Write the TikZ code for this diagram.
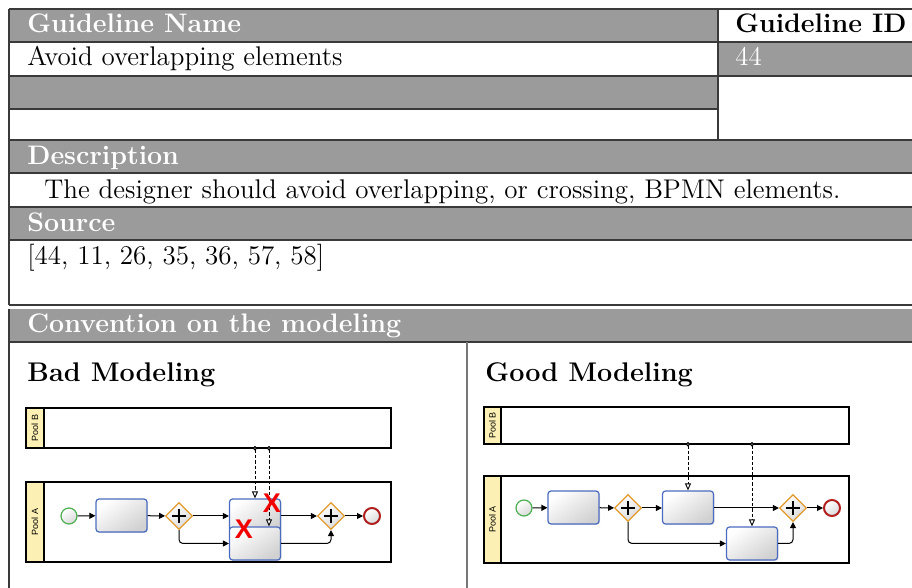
\documentclass[tikz,border=0pt]{standalone}
\usepackage{fontspec}
\newfontfamily\arialf{Liberation Sans}
\usetikzlibrary{arrows.meta,shapes.geometric,shadows}
\definecolor{hdr}{HTML}{9B9B9B}
\definecolor{tline}{HTML}{3A3A3A}
\definecolor{divline}{HTML}{777777}
\definecolor{taskblue}{HTML}{4A6CC0}
\definecolor{gwor}{HTML}{E39A2A}
\definecolor{poolyel}{HTML}{FDF0B5}
\definecolor{startg}{HTML}{4CAF50}
\definecolor{endr}{HTML}{B02020}
\definecolor{xred}{HTML}{F20000}
\begin{document}
\begin{tikzpicture}[x=0.5pt,y=-0.5pt,
  txt/.style={anchor=base west, inner sep=0pt, font=\fontsize{13.5}{15}\selectfont},
  hdtxt/.style={txt, text=white, font=\fontsize{13.4}{15}\selectfont\bfseries},
  tl/.style={draw=tline, line width=0.6pt},
  task/.style={rectangle, draw=taskblue, line width=0.6pt, rounded corners=1.5pt,
    minimum width=25.5pt, minimum height=16.5pt, inner sep=0pt,
    top color=white, bottom color=black!18, shading angle=35,
    drop shadow={opacity=0.25, shadow xshift=0.5pt, shadow yshift=-0.5pt}},
  gw/.style={diamond, draw=gwor, line width=0.6pt, minimum width=13.5pt, minimum height=13.5pt,
    inner sep=0pt, top color=white, bottom color=black!15, shading angle=35},
  startev/.style={circle, draw=startg, line width=0.6pt, minimum size=8pt, inner sep=0pt,
    top color=white, bottom color=black!15, shading angle=35},
  endev/.style={circle, draw=endr, line width=1pt, minimum size=8pt, inner sep=0pt,
    top color=white, bottom color=black!15, shading angle=35},
  poolbox/.style={rectangle, draw=black, line width=0.8pt, fill=white, inner sep=0pt},
  poollab/.style={rectangle, draw=black, line width=0.8pt, fill=poolyel, inner sep=0pt},
  pooltxt/.style={rotate=90, font=\arialf\fontsize{4.5}{5}\selectfont, inner sep=0pt},
  seq/.style={line width=0.5pt, rounded corners=2pt, -{Triangle[length=3pt,width=3pt]}},
  msg/.style={line width=0.45pt, dash pattern=on 1.6pt off 1pt,
    {Circle[open,length=2.2pt,width=2.2pt,fill=black!55]}-{Triangle[open,length=3.5pt,width=3pt,fill=white]}},
  xmark/.style={text=xred, font=\arialf\bfseries\fontsize{13.5}{14}\selectfont, inner sep=0pt},
  ttl/.style={txt, font=\fontsize{13.5}{15}\selectfont\bfseries}
]
\clip (0,0) rectangle (912,588);
% ---------- table ----------
\fill[hdr] (9,9) rectangle (718,42);
\fill[hdr] (718,42) rectangle (930,76);
\fill[hdr] (9,76) rectangle (718,109);
\fill[hdr] (9,140) rectangle (930,173);
\fill[hdr] (9,207) rectangle (930,240);
\fill[hdr] (9,309) rectangle (930,342);
\draw[tl] (9,9) -- (930,9);
\draw[tl] (9,42) -- (930,42);
\draw[tl] (9,76) -- (930,76);
\draw[tl] (9,109) -- (718,109);
\draw[tl] (9,140) -- (930,140);
\draw[tl] (9,173) -- (930,173);
\draw[tl] (9,207) -- (930,207);
\draw[tl] (9,240) -- (930,240);
\draw[tl, line width=0.9pt] (9,305) -- (930,305);
\draw[tl, line width=0.9pt] (9,342) -- (930,342);
\draw[tl] (9,9) -- (9,305);
\draw[tl] (9,309) -- (9,600);
\draw[tl] (718,9) -- (718,140);
\draw[draw=divline, line width=0.7pt] (467,342) -- (467,600);

\node[hdtxt] (gname) at (27,33) {Guideline Name};
\node[txt, font=\fontsize{13.4}{15}\selectfont\bfseries] (gid) at (735,33) {Guideline ID};
\node[txt] (gval) at (27,66) {Avoid overlapping elements};
\node[txt, text=white] (idval) at (735,66) {44};
\node[hdtxt] (desch) at (27,165) {Description};
\node[txt] (desc) at (44,199) {The designer should avoid overlapping, or crossing, BPMN elements.};
\node[hdtxt] (srch) at (27,232) {Source};
\node[txt] (src) at (27,265) {[44, 11, 26, 35, 36, 57, 58]};
\node[hdtxt] (convh) at (27,333) {Convention on the modeling};
\node[ttl] (bad) at (27,382) {Bad Modeling};
\node[ttl] (good) at (485,382) {Good Modeling};

% ---------- Bad modeling ----------
\node[poolbox, minimum width=182.5pt, minimum height=20pt] (bPB) at (208.5,428) {};
\node[poollab, minimum width=9pt, minimum height=20pt] (bPBl) at (35,428) {};
\node[pooltxt] at (bPBl) {Pool B};
\node[poolbox, minimum width=182.5pt, minimum height=40pt] (bPA) at (208.5,522) {};
\node[poollab, minimum width=9pt, minimum height=40pt] (bPAl) at (35,522) {};
\node[pooltxt] at (bPAl) {Pool A};

\node[startev] (bs) at (69,516) {};
\node[task] (bt1) at (121.5,515.5) {};
\node[gw] (bg1) at (179,516) {};
\node[task] (btU) at (255,515.5) {};
\node[task] (btL) at (255,543.5) {};
\node[gw] (bg2) at (331,516) {};
\node[endev] (be) at (372,516) {};
\foreach \g in {bg1,bg2}{
  \draw[line width=0.9pt] ([xshift=-3.6pt]\g.center) -- ([xshift=3.6pt]\g.center);
  \draw[line width=0.9pt] ([yshift=-3.6pt]\g.center) -- ([yshift=3.6pt]\g.center);
}
\draw[seq] (bs) -- (bt1);
\draw[seq] (bt1) -- (bg1);
\draw[seq] (bg1) -- (btU.west |- bg1);
\draw[seq] (bg1.south) |- (btL.west);
\draw[seq] (btU.east |- bg2) -- (bg2);
\draw[seq] (btL.east) -| (bg2.south);
\draw[seq] (bg2) -- (be);
\coordinate (bm1) at (255,446);
\coordinate (bm2) at (269,446);
\draw[msg] (bm1) -- (btU.north);
\draw[msg] (bm2) -- (bm2 |- btL.north);
\node[xmark] (x1) at (272,503) {X};
\node[xmark] (x2) at (244,529) {X};

% ---------- Good modeling ----------
\node[poolbox, minimum width=182.5pt, minimum height=18.5pt] (gPB) at (666.5,425.5) {};
\node[poollab, minimum width=8.5pt, minimum height=18.5pt] (gPBl) at (492.5,425.5) {};
\node[pooltxt] at (gPBl) {Pool B};
\node[poolbox, minimum width=182.5pt, minimum height=43.5pt] (gPA) at (666.5,519.5) {};
\node[poollab, minimum width=8.5pt, minimum height=43.5pt] (gPAl) at (492.5,519.5) {};
\node[pooltxt] at (gPAl) {Pool A};

\node[startev] (gs) at (524,508) {};
\node[task] (gt1) at (573.5,507.5) {};
\node[gw] (gg1) at (628,508) {};
\node[task] (gt2) at (688,507.5) {};
\node[task] (gt3) at (752,543.5) {};
\node[gw] (gg2) at (793,508) {};
\node[endev] (ge) at (832,508) {};
\foreach \g in {gg1,gg2}{
  \draw[line width=0.9pt] ([xshift=-3.6pt]\g.center) -- ([xshift=3.6pt]\g.center);
  \draw[line width=0.9pt] ([yshift=-3.6pt]\g.center) -- ([yshift=3.6pt]\g.center);
}
\draw[seq] (gs) -- (gt1);
\draw[seq] (gt1) -- (gg1);
\draw[seq] (gg1) -- (gt2.west |- gg1);
\draw[seq] (gg1.south) |- (gt3.west);
\draw[seq] (gt2.east |- gg2) -- (gg2);
\draw[seq] (gt3.east) -| (gg2.south);
\draw[seq] (gg2) -- (ge);
\coordinate (gm1) at (688,442);
\coordinate (gm2) at (752,442);
\draw[msg] (gm1) -- (gt2.north);
\draw[msg] (gm2) -- (gt3.north);
\end{tikzpicture}
\end{document}
